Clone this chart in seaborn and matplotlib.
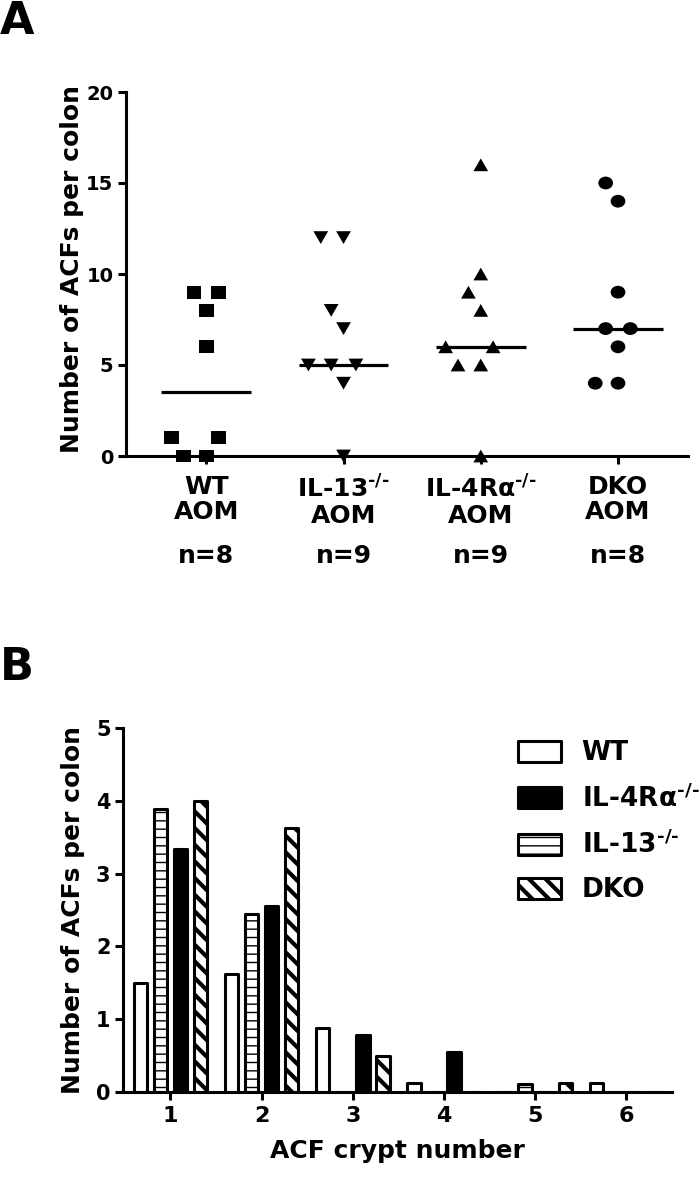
import numpy as np
import pandas as pd
import matplotlib
matplotlib.use("Agg")
import matplotlib.pyplot as plt
import seaborn as sns
from matplotlib.path import Path
from matplotlib.markers import MarkerStyle
from matplotlib.patches import Patch
from matplotlib.transforms import Affine2D

# ---------------- Panel A data (ACFs per colon, each mouse) ----------------
groups_a = ["WT", "IL-13", "IL-4Ra", "DKO"]
wt_acf = [9, 9, 8, 6, 1, 1, 0, 0]
il13_acf = [12, 12, 8, 7, 5, 5, 5, 4, 0]
il4ra_acf = [16, 10, 9, 8, 6, 6, 5, 5, 0]
dko_acf = [15, 14, 9, 7, 7, 6, 4, 4]
tick_names_a = ["WT", "IL-13$^{\\mathrm{\u2010/\u2010}}$",
                "IL-4R$\\mathrm{\\alpha}^{\\mathrm{\u2010/\u2010}}$", "DKO"]
treatment = "AOM"

# ---------------- Panel B data (mean ACFs per colon by crypt number) -------
crypt_numbers = [1, 2, 3, 4, 5, 6]
bar_order = ["WT", "IL-13", "IL-4Ra", "DKO"]
wt_mean = [1.5, 1.625, 0.875, 0.125, 0.0, 0.125]
il13_mean = [3.889, 2.444, 0.0, 0.0, 0.111, 0.0]
il4ra_mean = [3.333, 2.556, 0.778, 0.556, 0.0, 0.0]
dko_mean = [4.0, 3.625, 0.5, 0.0, 0.125, 0.0]
legend_order = ["WT", "IL-4Ra", "IL-13", "DKO"]
legend_names = {"WT": "WT",
                "IL-4Ra": "IL-4R$\\mathrm{\\alpha}^{\\mathrm{\u2010/\u2010}}$",
                "IL-13": "IL-13$^{\\mathrm{\u2010/\u2010}}$",
                "DKO": "DKO"}

# ---------------- style ----------------
sns.set_style("ticks")
plt.rcParams["font.family"] = ["DejaVu Sans"]
plt.rcParams["font.weight"] = "bold"
plt.rcParams["axes.labelweight"] = "bold"
plt.rcParams["axes.linewidth"] = 2.2
plt.rcParams["mathtext.default"] = "regular"
for k in ["text.color", "axes.labelcolor", "xtick.color", "ytick.color", "axes.edgecolor"]:
    plt.rcParams[k] = "black"

W, H = 700, 1178
fig = plt.figure(figsize=(W / 100, H / 100), dpi=100)


def px_axes(left, top, right, bottom):
    return fig.add_axes([left / W, 1 - bottom / H, (right - left) / W, (bottom - top) / H])


ax_a = px_axes(126, 92, 688, 456)
ax_b = px_axes(123, 728, 672, 1092)

# ---------------- markers (slightly wide, like the reference) ----------------
sx = 0.575
sq_path = Path([(-sx, -0.5), (sx, -0.5), (sx, 0.5), (-sx, 0.5), (-sx, -0.5)], closed=True)
dn_path = Path([(-sx, 0.5), (sx, 0.5), (0, -0.5), (-sx, 0.5)], closed=True)
up_path = Path([(-sx, -0.5), (sx, -0.5), (0, 0.5), (-sx, -0.5)], closed=True)
ci_path = Affine2D().scale(sx, 0.5).transform_path(Path.unit_circle())
markers = [MarkerStyle(sq_path), MarkerStyle(dn_path), MarkerStyle(up_path), MarkerStyle(ci_path)]

values_a = [wt_acf, il13_acf, il4ra_acf, dko_acf]
df_a = pd.DataFrame({
    "group": np.repeat(groups_a, [len(v) for v in values_a]),
    "acf": np.concatenate(values_a).astype(float),
})

for g, m in zip(groups_a, markers):
    sns.swarmplot(data=df_a[df_a["group"] == g], x="group", y="acf", order=groups_a,
                  color="black", marker=m, size=10.6, linewidth=5.0, edgecolor="none",
                  ax=ax_a, zorder=3)

# let the real points overflow the axis line (points at 0), but keep empty
# placeholder collections clipped
for coll in ax_a.collections:
    if len(coll.get_offsets()) > 0:
        coll.set_clip_on(False)

sns.boxplot(data=df_a, x="group", y="acf", order=groups_a, width=0.655,
            showbox=False, showcaps=False, showfliers=False,
            whiskerprops={"visible": False},
            medianprops={"color": "black", "linewidth": 2.3, "solid_capstyle": "butt"},
            ax=ax_a, zorder=4)

ax_a.set_xlim(-0.585, 3.51)
ax_a.set_ylim(0, 20)
ax_a.set_yticks([0, 5, 10, 15, 20])
ax_a.set_xticks(range(len(groups_a)))
ax_a.set_xticklabels([f"{n}\n{treatment}" for n in tick_names_a], linespacing=1.05)
ax_a.set_xlabel("")
ax_a.set_ylabel("Number of ACFs per colon", fontsize=18)
ax_a.yaxis.set_label_coords(-0.075, 0.515)
ax_a.tick_params(axis="both", width=2.2, length=6, direction="out", colors="black")
ax_a.tick_params(axis="y", labelsize=14, pad=3)
ax_a.tick_params(axis="x", labelsize=18, pad=8)
sns.despine(ax=ax_a)
for i, v in enumerate(values_a):
    ax_a.text(i, -0.294, f"n={len(v)}", transform=ax_a.get_xaxis_transform(),
              ha="center", va="baseline", fontsize=18, fontweight="bold")

# ---------------- Panel B ----------------
means_b = [wt_mean, il13_mean, il4ra_mean, dko_mean]
df_b = pd.DataFrame({
    "crypt": np.tile(crypt_numbers, len(bar_order)),
    "genotype": np.repeat(bar_order, len(crypt_numbers)),
    "acf": np.concatenate(means_b),
})
bar_colors = {"WT": "white", "IL-13": "white", "IL-4Ra": "black", "DKO": "white"}
bar_hatch = {"WT": None, "IL-13": "--", "IL-4Ra": None, "DKO": "\\\\"}
hatch_lw = {"WT": 1.0, "IL-13": 1.0, "IL-4Ra": 1.0, "DKO": 3.0}

sns.barplot(data=df_b, x="crypt", y="acf", hue="genotype", hue_order=bar_order,
            palette=bar_colors, native_scale=True, width=0.88, gap=0.33,
            edgecolor="black", linewidth=2.2, errorbar=None, legend=False, ax=ax_b)


def style_patch(p, g):
    p.set_joinstyle("round")
    if bar_hatch[g]:
        p.set_hatch(bar_hatch[g])
        if hasattr(p, "set_hatch_linewidth"):
            p.set_hatch_linewidth(hatch_lw[g])


for g, cont in zip(bar_order, ax_b.containers):
    for bar in cont:
        style_patch(bar, g)

ax_b.set_xlim(0.48, 6.5)
ax_b.set_ylim(0, 5)
ax_b.set_xticks(crypt_numbers)
ax_b.set_xticklabels([str(c) for c in crypt_numbers])
ax_b.set_yticks([0, 1, 2, 3, 4, 5])
ax_b.set_xlabel("ACF crypt number", fontsize=18)
ax_b.set_ylabel("Number of ACFs per colon", fontsize=18)
ax_b.xaxis.set_label_coords(0.5, -0.13)
ax_b.yaxis.set_label_coords(-0.069, 0.5)
ax_b.tick_params(axis="both", width=2.2, length=6, direction="out", colors="black")
ax_b.tick_params(axis="y", labelsize=15, pad=3)
ax_b.tick_params(axis="x", labelsize=16, pad=4)
sns.despine(ax=ax_b)

handles = [Patch(facecolor=bar_colors[g], edgecolor="black", linewidth=2.2) for g in legend_order]
leg = ax_b.legend(handles, [legend_names[g] for g in legend_order], loc="upper left",
                  bbox_to_anchor=(0.72, 0.966), frameon=False,
                  prop={"size": 19, "weight": "bold"},
                  handlelength=1.6, handleheight=0.85, handletextpad=0.8,
                  labelspacing=0.68, borderaxespad=0, borderpad=0)
for g, p in zip(legend_order, leg.get_patches()):
    style_patch(p, g)

# ---------------- panel letters ----------------
fig.text(0.0, 1.0, "A", fontsize=32, fontweight="bold", va="top", ha="left")
fig.text(0.0, 1 - 646 / H, "B", fontsize=32, fontweight="bold", va="top", ha="left")

fig.savefig("out.png", dpi=100)
